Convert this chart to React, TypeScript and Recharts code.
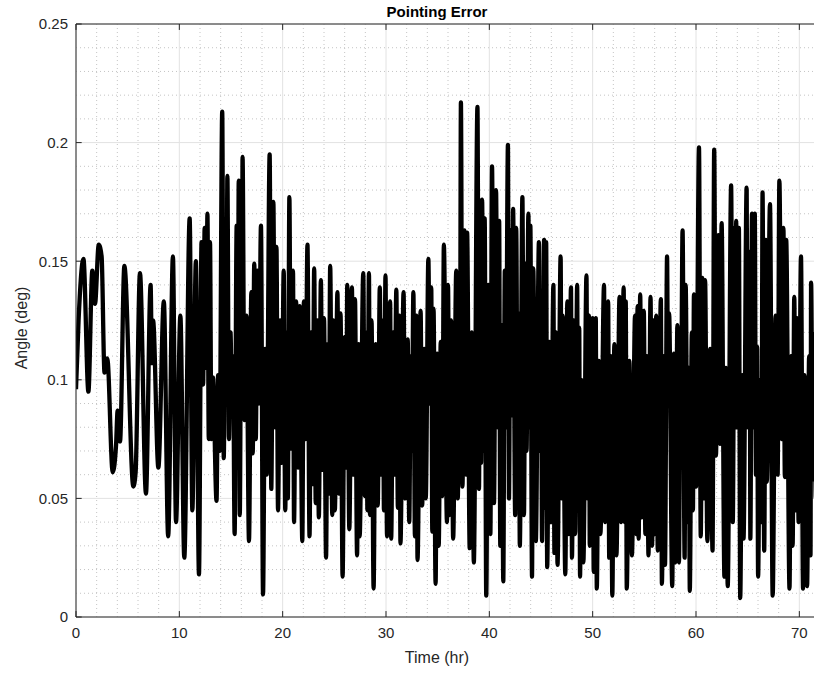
import React from 'react';
import { LineChart, Line, XAxis, YAxis, CartesianGrid, ReferenceLine } from 'recharts';

// Pointing error samples [time (hr), angle (deg)], by segment
const seg0to10: [number, number][] = [
  [0, 0.096], [0.25, 0.125], [0.72, 0.151], [1.2, 0.095], [1.58, 0.146], [1.84, 0.132], [2.2, 0.157], [2.48, 0.152],
  [2.76, 0.103], [3.03, 0.109], [3.55, 0.061], [3.87, 0.072], [4.03, 0.087], [4.26, 0.074], [4.68, 0.148], [5.55, 0.055],
  [5.77, 0.061], [6.19, 0.145], [6.77, 0.052], [7.22, 0.14], [7.35, 0.107], [7.46, 0.125], [7.97, 0.063], [8.5, 0.133],
  [8.92, 0.034], [9.38, 0.152], [9.68, 0.04], [10.1, 0.127],
];
const seg10to20: [number, number][] = [
  [10.48, 0.025], [11.0, 0.168], [11.26, 0.045], [11.6, 0.15], [11.9, 0.018], [12.15, 0.158], [12.3, 0.098], [12.45, 0.164],
  [12.6, 0.105], [12.72, 0.17], [12.85, 0.075], [12.97, 0.158], [13.1, 0.075], [13.25, 0.101], [13.6, 0.049], [13.75, 0.102],
  [13.9, 0.07], [14.15, 0.213], [14.3, 0.067], [14.45, 0.15], [14.55, 0.09], [14.65, 0.186], [14.8, 0.075], [14.95, 0.12],
  [15.1, 0.085], [15.2, 0.11], [15.35, 0.035], [15.55, 0.165], [15.65, 0.09], [15.75, 0.184], [15.85, 0.043], [16.0, 0.15],
  [16.05, 0.1], [16.12, 0.194], [16.3, 0.083], [16.5, 0.127], [16.74, 0.032], [16.97, 0.137], [17.1, 0.069], [17.25, 0.149],
  [17.4, 0.075], [17.55, 0.146], [17.7, 0.09], [17.9, 0.165], [18.1, 0.0095], [18.3, 0.113], [18.45, 0.06], [18.74, 0.195],
  [18.9, 0.054], [19.1, 0.175], [19.25, 0.08], [19.4, 0.156], [19.55, 0.045], [19.75, 0.125], [19.9, 0.065], [20.1, 0.146],
];
const seg20to30: [number, number][] = [
  [20.25, 0.045], [20.4, 0.12], [20.5, 0.05], [20.65, 0.177], [20.8, 0.071], [21.0, 0.146], [21.1, 0.04], [21.3, 0.133],
  [21.5, 0.063], [21.65, 0.131], [21.9, 0.032], [22.05, 0.133], [22.2, 0.075], [22.4, 0.157], [22.6, 0.034], [22.75, 0.12],
  [22.9, 0.056], [23.05, 0.147], [23.2, 0.048], [23.35, 0.125], [23.5, 0.042], [23.7, 0.142], [23.85, 0.062], [24.0, 0.126],
  [24.2, 0.025], [24.35, 0.115], [24.45, 0.052], [24.6, 0.148], [24.8, 0.043], [24.9, 0.125], [25.05, 0.045], [25.3, 0.137],
  [25.45, 0.052], [25.6, 0.128], [25.8, 0.017], [26.0, 0.118], [26.15, 0.063], [26.25, 0.14], [26.45, 0.037], [26.7, 0.139],
  [26.85, 0.06], [27.0, 0.134], [27.2, 0.026], [27.35, 0.115], [27.45, 0.034], [27.8, 0.145], [27.95, 0.051], [28.1, 0.12],
  [28.2, 0.045], [28.35, 0.145], [28.45, 0.043], [28.6, 0.125], [28.8, 0.012], [29.0, 0.115], [29.2, 0.047], [29.4, 0.139],
  [29.55, 0.06], [29.7, 0.125], [29.8, 0.045], [29.95, 0.144],
];
const seg30to40: [number, number][] = [
  [30.1, 0.034], [30.4, 0.133], [30.5, 0.033], [30.7, 0.12], [30.8, 0.06], [31.0, 0.138], [31.15, 0.046], [31.3, 0.127],
  [31.4, 0.031], [31.7, 0.137], [31.85, 0.05], [32.1, 0.117], [32.25, 0.04], [32.4, 0.11], [32.5, 0.07], [32.65, 0.137],
  [32.8, 0.034], [32.95, 0.127], [33.05, 0.024], [33.35, 0.129], [33.5, 0.047], [33.7, 0.113], [33.85, 0.05], [34.1, 0.151],
  [34.25, 0.09], [34.38, 0.139], [34.48, 0.036], [34.6, 0.13], [34.8, 0.014], [34.95, 0.111], [35.1, 0.03], [35.3, 0.116],
  [35.45, 0.051], [35.6, 0.157], [35.9, 0.04], [36.0, 0.14], [36.15, 0.043], [36.3, 0.125], [36.5, 0.033], [36.8, 0.146],
  [36.95, 0.05], [37.08, 0.12], [37.15, 0.07], [37.25, 0.217], [37.4, 0.055], [37.6, 0.163], [37.75, 0.06], [37.85, 0.162],
  [38.1, 0.029], [38.3, 0.12], [38.5, 0.023], [38.85, 0.215], [39.0, 0.054], [39.1, 0.15], [39.2, 0.065], [39.3, 0.176],
  [39.45, 0.07], [39.55, 0.168], [39.7, 0.009], [39.9, 0.14],
];
const seg40to50: [number, number][] = [
  [40.1, 0.035], [40.26, 0.19], [40.45, 0.048], [40.65, 0.18], [40.8, 0.08], [40.95, 0.167], [41.06, 0.03], [41.2, 0.123],
  [41.35, 0.015], [41.5, 0.146], [41.6, 0.08], [41.8, 0.199], [41.9, 0.05], [42.05, 0.163], [42.2, 0.085], [42.3, 0.172],
  [42.5, 0.043], [42.6, 0.164], [42.75, 0.06], [42.85, 0.128], [42.95, 0.03], [43.2, 0.177], [43.35, 0.043], [43.5, 0.149],
  [43.6, 0.07], [43.78, 0.17], [43.9, 0.08], [43.97, 0.165], [44.13, 0.017], [44.25, 0.147], [44.5, 0.032], [44.8, 0.158],
  [44.9, 0.07], [45.0, 0.127], [45.1, 0.032], [45.3, 0.159], [45.4, 0.046], [45.5, 0.158], [45.6, 0.021], [45.8, 0.116],
  [45.95, 0.04], [46.2, 0.14], [46.3, 0.027], [46.45, 0.12], [46.6, 0.022], [46.9, 0.152], [47.0, 0.05], [47.1, 0.127],
  [47.35, 0.018], [47.55, 0.133], [47.7, 0.035], [47.9, 0.139], [48.0, 0.025], [48.15, 0.125], [48.3, 0.035], [48.5, 0.14],
  [48.58, 0.05], [48.7, 0.122], [48.78, 0.017], [48.9, 0.1], [49.1, 0.023], [49.4, 0.144], [49.5, 0.05], [49.65, 0.127],
  [49.72, 0.03], [50.0, 0.126],
];
const seg50to60: [number, number][] = [
  [50.1, 0.019], [50.3, 0.126], [50.4, 0.012], [50.6, 0.108], [50.75, 0.035], [51.1, 0.14], [51.2, 0.04], [51.5, 0.133],
  [51.6, 0.025], [51.75, 0.11], [51.9, 0.009], [52.1, 0.115], [52.3, 0.026], [52.6, 0.135], [52.75, 0.04], [53.0, 0.139],
  [53.1, 0.04], [53.2, 0.133], [53.3, 0.012], [53.55, 0.108], [53.8, 0.026], [54.1, 0.127], [54.2, 0.035], [54.35, 0.131],
  [54.45, 0.033], [54.6, 0.136], [54.75, 0.042], [54.95, 0.129], [55.1, 0.035], [55.25, 0.11], [55.4, 0.026], [55.6, 0.135],
  [55.75, 0.03], [55.9, 0.125], [56.0, 0.035], [56.15, 0.127], [56.3, 0.028], [56.6, 0.134], [56.7, 0.014], [56.9, 0.11],
  [57.0, 0.022], [57.2, 0.152], [57.3, 0.09], [57.4, 0.128], [57.7, 0.013], [57.85, 0.111], [58.0, 0.023], [58.2, 0.123],
  [58.35, 0.023], [58.5, 0.12], [58.55, 0.09], [58.7, 0.163], [58.9, 0.025], [59.0, 0.14], [59.2, 0.04], [59.3, 0.105],
  [59.4, 0.011], [59.6, 0.12], [59.7, 0.045], [59.8, 0.136], [60.0, 0.055],
];
const seg60to72: [number, number][] = [
  [60.29, 0.198], [60.46, 0.034], [60.62, 0.143], [60.75, 0.05], [60.88, 0.142], [61.1, 0.032], [61.37, 0.113], [61.6, 0.028],
  [61.76, 0.197], [61.93, 0.068], [62.16, 0.161], [62.32, 0.073], [62.48, 0.166], [62.75, 0.017], [62.9, 0.105], [63.07, 0.013],
  [63.4, 0.182], [63.56, 0.04], [63.73, 0.164], [63.81, 0.08], [63.89, 0.167], [63.97, 0.08], [64.15, 0.164], [64.28, 0.008],
  [64.48, 0.102], [64.6, 0.033], [64.9, 0.181], [64.97, 0.08], [65.2, 0.154], [65.26, 0.033], [65.42, 0.17], [65.52, 0.08],
  [65.69, 0.17], [65.8, 0.06], [65.92, 0.114], [66.01, 0.017], [66.2, 0.1], [66.34, 0.04], [66.44, 0.179], [66.6, 0.028],
  [66.76, 0.159], [66.85, 0.057], [67.16, 0.174], [67.42, 0.009], [67.7, 0.127], [67.9, 0.06], [68.07, 0.184], [68.3, 0.075],
  [68.46, 0.164], [68.6, 0.059], [68.73, 0.159], [69.05, 0.012], [69.2, 0.11], [69.35, 0.03], [69.51, 0.135], [69.65, 0.045],
  [69.77, 0.126], [69.93, 0.04], [70.16, 0.152], [70.36, 0.012], [70.49, 0.102], [70.75, 0.013], [70.95, 0.11], [71.08, 0.026],
  [71.14, 0.141], [71.3, 0.058], [71.4, 0.119], [71.6, 0.05], [71.8, 0.12], [72.0, 0.07],
];

const xTicks = [0, 10, 20, 30, 40, 50, 60, 70];
const yTicks = [0, 0.05, 0.1, 0.15, 0.2, 0.25];
const xMinor = [2, 4, 6, 8, 12, 14, 16, 18, 22, 24, 26, 28, 32, 34, 36, 38, 42, 44, 46, 48, 52, 54, 56, 58, 62, 64, 66, 68];
const yMinor = [0.01, 0.02, 0.03, 0.04, 0.06, 0.07, 0.08, 0.09, 0.11, 0.12, 0.13, 0.14, 0.16, 0.17, 0.18, 0.19, 0.21, 0.22, 0.23, 0.24];

const data = [...seg0to10, ...seg10to20, ...seg20to30, ...seg30to40, ...seg40to50, ...seg50to60, ...seg60to72].map(
  ([t, v]) => ({ t, v })
);

const FONT = '"Liberation Sans", Arial, Helvetica, sans-serif';
const AXIS = '#262626';

export default function App() {
  return (
    <div
      style={{
        position: 'absolute',
        left: 0,
        top: 0,
        width: 814,
        height: 673,
        overflow: 'hidden',
        background: '#fff',
        fontFamily: FONT,
      }}
    >
      <LineChart width={820} height={673} data={data} margin={{ top: 24, right: 0, bottom: 26, left: 0 }}>
        {xMinor.map((x) => (
          <ReferenceLine key={'xm' + x} x={x} stroke="#c4c4c4" strokeDasharray="1 3" strokeWidth={1} zIndex={-120} />
        ))}
        {yMinor.map((y) => (
          <ReferenceLine key={'ym' + y} y={y} stroke="#c4c4c4" strokeDasharray="1 3" strokeWidth={1} zIndex={-120} />
        ))}
        <CartesianGrid stroke="#e2e2e2" strokeWidth={1} />
        <XAxis
          type="number"
          dataKey="t"
          domain={[0, 72]}
          ticks={xTicks}
          allowDataOverflow
          height={30}
          tickSize={0}
          tickMargin={10}
          stroke={AXIS}
          tick={{ fill: AXIS, fontSize: 15, fontFamily: FONT }}
        />
        <YAxis
          type="number"
          domain={[0, 0.25]}
          ticks={yTicks}
          allowDataOverflow
          width={76}
          tickSize={0}
          tickMargin={8}
          stroke={AXIS}
          tick={{ fill: AXIS, fontSize: 15, fontFamily: FONT }}
        />
        <ReferenceLine y={0.25} stroke={AXIS} strokeWidth={1} />
        {yTicks.map((y) => (
          <ReferenceLine
            key={'yt' + y}
            segment={[{ x: 0, y }, { x: 0.55, y }]}
            stroke={AXIS}
            strokeWidth={1}
          />
        ))}
        {xTicks.map((x) => (
          <ReferenceLine
            key={'xb' + x}
            segment={[{ x, y: 0 }, { x, y: 0.0025 }]}
            stroke={AXIS}
            strokeWidth={1}
          />
        ))}
        {xTicks.map((x) => (
          <ReferenceLine
            key={'xt' + x}
            segment={[{ x, y: 0.25 }, { x, y: 0.2475 }]}
            stroke={AXIS}
            strokeWidth={1}
          />
        ))}
        <Line
          type="monotone"
          dataKey="v"
          stroke="#000"
          strokeWidth={4.3}
          strokeLinejoin="round"
          dot={false}
          activeDot={false}
          isAnimationActive={false}
        />
      </LineChart>
      <div
        style={{
          position: 'absolute',
          left: 337,
          width: 200,
          top: 3,
          textAlign: 'center',
          fontWeight: 'bold',
          fontSize: 15,
          color: '#000',
        }}
      >
        Pointing Error
      </div>
      <div
        style={{
          position: 'absolute',
          left: 337,
          width: 200,
          top: 649,
          textAlign: 'center',
          fontSize: 16,
          color: AXIS,
        }}
      >
        Time (hr)
      </div>
      <div
        style={{
          position: 'absolute',
          left: 22 - 60,
          top: 328 - 10,
          width: 120,
          height: 20,
          lineHeight: '20px',
          textAlign: 'center',
          fontSize: 16,
          color: AXIS,
          transform: 'rotate(-90deg)',
        }}
      >
        Angle (deg)
      </div>
    </div>
  );
}
